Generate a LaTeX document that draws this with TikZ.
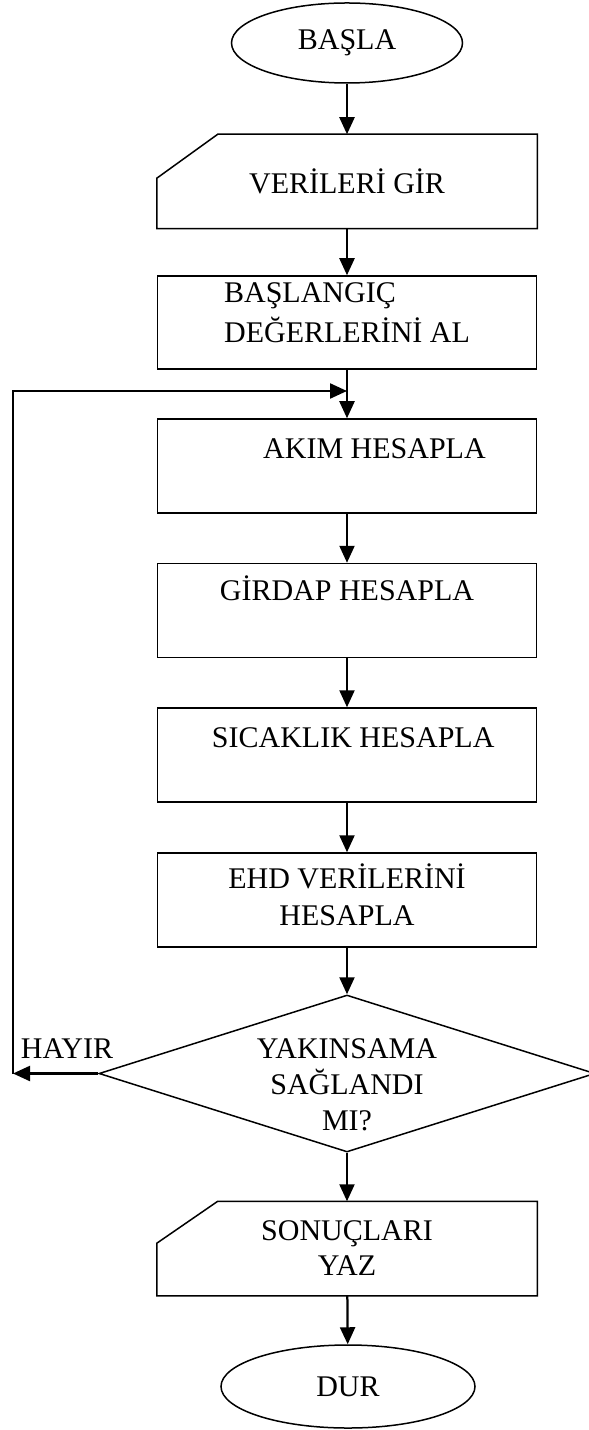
\documentclass[tikz,border=0pt]{standalone}
\usepackage{fontspec}
\setmainfont{Liberation Serif}
\usetikzlibrary{shapes.geometric, arrows.meta, calc}

\tikzset{
  txt/.style={font=\fontsize{12}{14}\selectfont},
  proc/.style={txt, draw, line width=0.6pt, minimum width=151.6pt, inner sep=0pt, align=center},
  inbox/.style={proc, draw=none},
  term/.style={txt, draw, ellipse, line width=0.6pt, inner sep=0pt},
  cond/.style={draw, diamond, line width=0.6pt, inner sep=0pt, minimum width=198.4pt, minimum height=62.8pt},
  flow/.style={-{Triangle[length=6.8pt,width=6pt]}, line width=0.9pt},
  lbl/.style={txt, inner sep=0pt, align=center}
}

\begin{document}
\begin{tikzpicture}[x=0.4pt, y=-0.4pt]
\useasboundingbox (0,0) rectangle (588,1430);

% Terminals
\node[term, minimum width=92.4pt, minimum height=32pt] (basla) at (347,43) {BAŞLA};
\node[term, minimum width=101.6pt, minimum height=33.2pt] (dur) at (348,1386.5) {DUR};

% Input / output
\node[inbox, minimum height=37.2pt] (gir) at (347,181.5) {VERİLERİ GİR};
\node[inbox, minimum height=37.2pt] (yaz) at (347,1248.5) {SONUÇLARI\\YAZ};
\draw[line width=0.6pt] ([xshift=24.4pt]gir.north west) -- (gir.north east) -- (gir.south east)
  -- (gir.south west) -- ([yshift=-17.6pt]gir.north west) -- cycle;
\draw[line width=0.6pt] ([xshift=24.4pt]yaz.north west) -- (yaz.north east) -- (yaz.south east)
  -- (yaz.south west) -- ([yshift=-16.8pt]yaz.north west) -- cycle;

% Process boxes
\node[proc, minimum height=37.2pt, align=left] (bas) at (347,322.5) {BAŞLANGIÇ\\[2pt]DEĞERLERİNİ AL\\[-10pt]\strut};
\node[proc, minimum height=37.6pt] (akim) at (347,466) {\hspace*{22pt}AKIM HESAPLA\\[-4pt]\strut};
\node[proc, minimum height=37.6pt] (girdap) at (347,610.5) {GİRDAP HESAPLA\\\strut};
\node[proc, minimum height=37.6pt] (sicak) at (347,755) {\hspace*{5pt}SICAKLIK HESAPLA\\[-4pt]\strut};
\node[proc, minimum height=37.6pt] (ehd) at (347,900) {EHD VERİLERİNİ\\[1pt]HESAPLA\\[-14pt]\strut};

% Decision
\node[cond] (conv) at (347,1073.5) {};
\node[lbl] (convtxt) at (347,1085) {YAKINSAMA\\[0.4pt]SAĞLANDI\\[0.4pt]MI?};
\node[lbl] (hayir) at (67,1049) {HAYIR};

% Connectors
\draw[flow] (basla) -- (gir);
\draw[flow] (gir) -- (bas);
\draw[flow] (bas) -- (akim);
\draw[flow] (akim) -- (girdap);
\draw[flow] (girdap) -- (sicak);
\draw[flow] (sicak) -- (ehd);
\draw[flow] (ehd) -- (conv);
\draw[flow] (conv) -- (yaz);
\draw[flow] (yaz) -- (dur);

% Loop back
\coordinate (loopL) at (13,1073.5);
\coordinate (loopJ) at (347,391);
\draw[flow] (conv.west) -- (loopL);
\draw[flow] (loopL) |- (loopJ);
\end{tikzpicture}
\end{document}
